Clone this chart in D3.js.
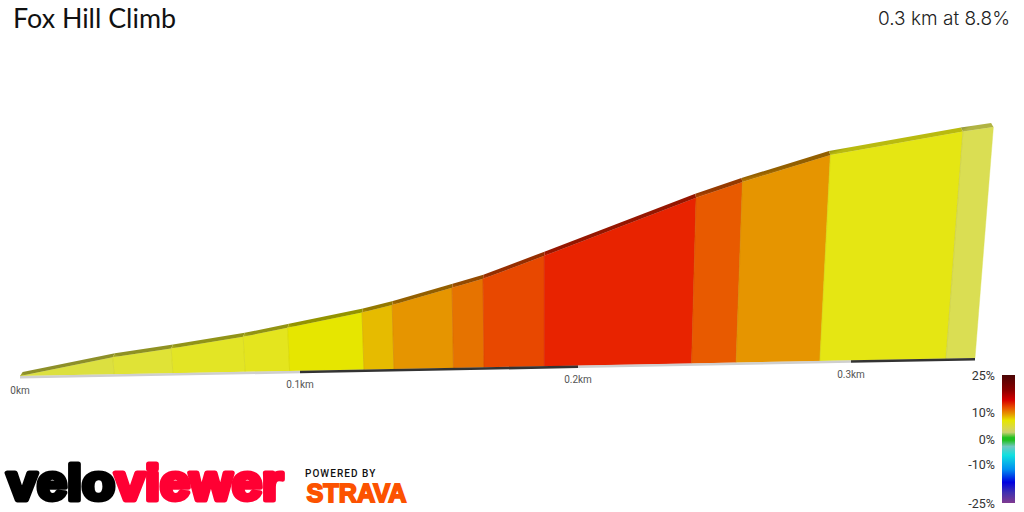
<!DOCTYPE html>
<html><head><meta charset="utf-8">
<script src="https://cdnjs.cloudflare.com/ajax/libs/d3/7.8.5/d3.min.js"></script>
<style>html,body{margin:0;padding:0;background:#fff}svg{display:block}text{font-family:Roboto,sans-serif}</style>
</head><body><svg id="c" width="1024" height="512"></svg>
<script>
const titleText = "Fox Hill Climb";
const summaryText = "0.3 km at 8.8%";
const distanceKm = [0,0.0336,0.0546,0.0804,0.0963,0.1230,0.1338,0.1552,0.1662,0.1879,0.2416,0.2579,0.2886,0.3345,0.345];
const elevationM = [0,2.2,3.2,4.55,5.6,7.4,8.3,10.4,11.5,14.35,21.5,23.45,26.75,29.5,30];
const gradePct = [2,3,4,4.2,5,6.5,8,9,11,14,10,8,4.5,1];
const distanceTicks = [0,0.1,0.2,0.3];
const distanceTickLabels = ["0km","0.1km","0.2km","0.3km"];
const legendTicks = [25,10,0,-10,-25];
const gradeStops = [0,2,3,4,5,6.5,8,9,10,11,14];
const gradeColors = ["#d8dc66","#dce040","#e0e336","#e3e525","#e6e600","#e6bb00","#e69500","#e67300","#e85a00","#e84800","#e82300"];
const legendStops = [25,19,15,12,9.5,7,4,2.5,0.5,-0.5,-3,-6.5,-12,-17,-21,-25];
const legendColors = ["#4a0505","#8a0000","#d60000","#e85000","#e69500","#e6e600","#d8d850","#c8d070","#20c020","#20c020","#70c8c0","#10e0e0","#0090f0","#0000e0","#4030b0","#803a90"];

const svg = d3.select("#c");
const xBase = d3.scaleLinear().domain([0,0.1,0.2,0.3,0.345]).range([20,300,578,851,975]);
const yBase = d3.scaleLinear().domain([0,0.345]).range([376,358]);
const hScale = d3.scaleLinear().domain([0,30]).range([0,231]);
const gradeColor = d3.scaleLinear().domain(gradeStops).range(gradeColors).clamp(true);

function topPt(i){
  const d = distanceKm[i], h = hScale(elevationM[i]);
  const bx = xBase(d);
  return [bx + (bx-545)*h/5400, yBase(d)-h];
}
function botPt(i){ const d = distanceKm[i]; return [xBase(d), yBase(d)]; }
function backPt(p){ return [p[0]+(545-p[0])*0.005, p[1]-4]; }
const poly = pts => "M"+pts.map(p=>p.join(",")).join("L")+"Z";

const defs = svg.append("defs");
const g = svg.append("g");
gradePct.forEach((gr,i)=>{
  const c = gradeColor(gr);
  const a=topPt(i), b=topPt(i+1), p=botPt(i), q=botPt(i+1);
  g.append("path").attr("d",poly([p,a,b,q])).attr("fill",c).attr("stroke",c).attr("stroke-width",0.4);
  if(i>0) g.append("line").attr("x1",p[0]).attr("y1",p[1]).attr("x2",a[0]).attr("y2",a[1])
    .attr("stroke",d3.color(c).darker(0.35)).attr("stroke-width",0.8).attr("stroke-opacity",0.55);
  const ba=backPt(a), bb=backPt(b);
  const sg = defs.append("linearGradient").attr("id","s"+i).attr("gradientUnits","userSpaceOnUse")
    .attr("x1",a[0]).attr("y1",a[1]).attr("x2",ba[0]).attr("y2",ba[1]);
  sg.append("stop").attr("offset",0).attr("stop-color",d3.color(c).darker(0.6));
  sg.append("stop").attr("offset",1).attr("stop-color",d3.color(c).darker(1.25));
  g.append("path").attr("d",poly([a,ba,bb,b])).attr("fill","url(#s"+i+")");
});
// road edge: alternating 0.1 km bands
const edgeEnds = [...distanceTicks, distanceKm[distanceKm.length-1]];
edgeEnds.slice(0,-1).forEach((d,i)=>{
  const e = edgeEnds[i+1];
  svg.append("line").attr("x1",xBase(d)).attr("y1",yBase(d)+1.2).attr("x2",xBase(e)).attr("y2",yBase(e)+1.2)
    .attr("stroke",i%2? "#333":"#cfcfcf").attr("stroke-width",2.6);
});
distanceTicks.forEach((d,i)=>{
  svg.append("text").attr("x",xBase(d)).attr("y",yBase(d)+17.5)
    .attr("text-anchor","middle").attr("font-size",10).attr("fill","#555").text(distanceTickLabels[i]);
});
svg.append("text").attr("x",13).attr("y",28).attr("font-size",27).attr("fill","#111")
  .attr("textLength",163).attr("lengthAdjust","spacingAndGlyphs").style("font-family","Lato,sans-serif").text(titleText);
svg.append("text").attr("x",878).attr("y",25).attr("font-size",18.5).attr("font-weight",300).attr("fill","#222")
  .attr("textLength",132).attr("lengthAdjust","spacingAndGlyphs").style("font-family","Inter,sans-serif").text(summaryText);

// colour legend
const yLegend = d3.scaleLinear().domain([25,10,0,-10,-25]).range([375,412.5,439,464,503]);
const lg = defs.append("linearGradient").attr("id","lg").attr("x1",0).attr("x2",0).attr("y1",0).attr("y2",1);
legendStops.forEach((s,i)=>lg.append("stop")
  .attr("offset",(yLegend(s)-375)/128).attr("stop-color",legendColors[i]));
svg.append("rect").attr("x",1002).attr("y",yLegend(25)).attr("width",13).attr("height",yLegend(-25)-yLegend(25)).attr("fill","url(#lg)");
legendTicks.forEach(t=>{
  svg.append("text").attr("x",995).attr("y",yLegend(t)).attr("dy","0.36em").attr("text-anchor","end")
    .attr("font-size",12.5).attr("fill","#333").text(t+"%");
});

// brand text
const logo = svg.append("text").attr("x",7).attr("y",500).attr("font-size",50).attr("font-weight",700)
  .attr("textLength",276).attr("lengthAdjust","spacingAndGlyphs").attr("stroke-width",5).attr("stroke-linejoin","round")
  .style("font-family",'"Liberation Sans",sans-serif');
logo.append("tspan").attr("fill","#000").attr("stroke","#000").text("velo");
logo.append("tspan").attr("fill","#ff0033").attr("stroke","#ff0033").text("viewer");
svg.append("text").attr("x",305).attr("y",477).attr("font-size",10).attr("font-weight",500)
  .attr("letter-spacing",1.05).attr("fill","#111").text("POWERED BY");
svg.append("text").attr("x",306.5).attr("y",502).attr("font-size",26).attr("font-weight",700)
  .attr("textLength",100).attr("lengthAdjust","spacingAndGlyphs").attr("fill","#fc5200").attr("stroke","#fc5200").attr("stroke-width",1.8)
  .style("font-family",'"Liberation Sans",sans-serif').text("STRAVA");
</script></body></html>
